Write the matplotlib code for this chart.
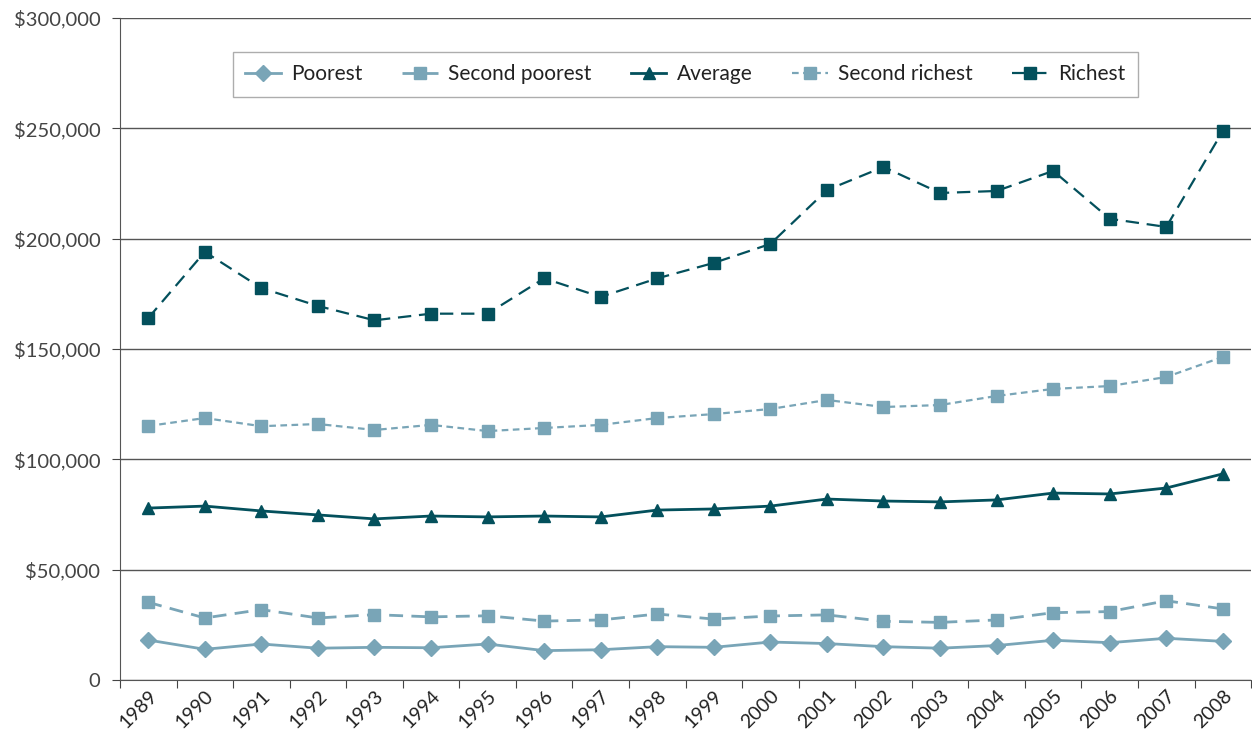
import matplotlib
matplotlib.use('Agg')
import matplotlib.pyplot as plt
import matplotlib.transforms as mtransforms
from matplotlib.ticker import FuncFormatter

plt.rcParams['font.family'] = ['Lato', 'DejaVu Sans']

years = [str(y) for y in range(1989, 2009)]
poorest = [18100, 13900, 16300, 14400, 14800, 14600, 16300, 13300, 13700, 15100,
           14800, 17200, 16500, 15100, 14400, 15600, 18000, 16900, 18900, 17500]
second_poorest = [35200, 28100, 31900, 28100, 29600, 28600, 29100, 26700, 27200, 29900,
                  27600, 29000, 29500, 26600, 26100, 27200, 30500, 31000, 35900, 32200]
average = [77900, 78800, 76600, 74800, 73000, 74300, 73900, 74300, 73900, 77000,
           77500, 78800, 82000, 81100, 80700, 81600, 84700, 84300, 87000, 93400]
second_richest = [115100, 118700, 115000, 116000, 113300, 115600, 112800, 114200, 115600, 118700,
                  120500, 122800, 126900, 123700, 124600, 128700, 131900, 133200, 137300, 146400]
richest = [164000, 194000, 177600, 169500, 163000, 166000, 166000, 182000, 173600, 182000,
           189000, 197600, 222000, 232500, 220700, 221600, 230700, 209000, 205300, 248800]

light = '#79a5b7'
dark = '#03505c'

fig = plt.figure(figsize=(12.52, 7.31), dpi=100)
ax = fig.add_axes([0.0958, 0.0698, 0.9035, 0.9056])

x = list(range(len(years)))
ax.plot(x, poorest, color=light, lw=2, marker='D', ms=8, label='Poorest')
ax.plot(x, second_poorest, color=light, lw=2, ls=(0, (5, 3)), marker='s', ms=9,
        label='Second poorest')
ax.plot(x, average, color=dark, lw=2, marker='^', ms=9, label='Average')
ax.plot(x, second_richest, color=light, lw=1.6, ls=(0, (3, 2)), marker='s', ms=9,
        label='Second richest')
ax.plot(x, richest, color=dark, lw=1.6, ls=(0, (6, 3.5)), marker='s', ms=9, label='Richest')

ax.set_xlim(-0.5, len(years) - 0.5)
ax.set_ylim(0, 300000)
ax.set_yticks(range(0, 300001, 50000))
ax.yaxis.set_major_formatter(FuncFormatter(lambda v, p: '0' if v == 0 else f'${v:,.0f}'))
ax.grid(axis='y', color='#555555', lw=1)
ax.set_axisbelow(True)

ax.set_xticks([i - 0.5 for i in range(len(years) + 1)])
ax.set_xticklabels([])
ax.set_xticks(x, minor=True)
ax.set_xticklabels(years, minor=True, rotation=45, ha='right', rotation_mode='anchor',
                   fontsize=14, color='#222222')
off = mtransforms.ScaledTranslation(0.13, 0, fig.dpi_scale_trans)
for lab in ax.get_xticklabels(minor=True):
    lab.set_transform(lab.get_transform() + off)
ax.tick_params(axis='x', which='minor', length=0, pad=5)
ax.tick_params(axis='x', which='major', length=6, color='#444444', direction='out')
ax.tick_params(axis='y', length=6, pad=8, color='#444444', labelsize=14.5, labelcolor='#444444')

for s in ['top', 'right']:
    ax.spines[s].set_visible(False)
ax.spines['left'].set_color('#555555')
ax.spines['bottom'].set_color('#555555')

leg = ax.legend(loc='upper left', bbox_to_anchor=(0.0998, 0.949), borderaxespad=0, ncol=5,
                fontsize=15, frameon=True, fancybox=False, edgecolor='#999999',
                handlelength=1.7, columnspacing=1.9, borderpad=0.6, handletextpad=0.5)
leg.get_frame().set_linewidth(1)
for t in leg.get_texts():
    t.set_color('#222222')

fig.savefig('out.png', dpi=100)
